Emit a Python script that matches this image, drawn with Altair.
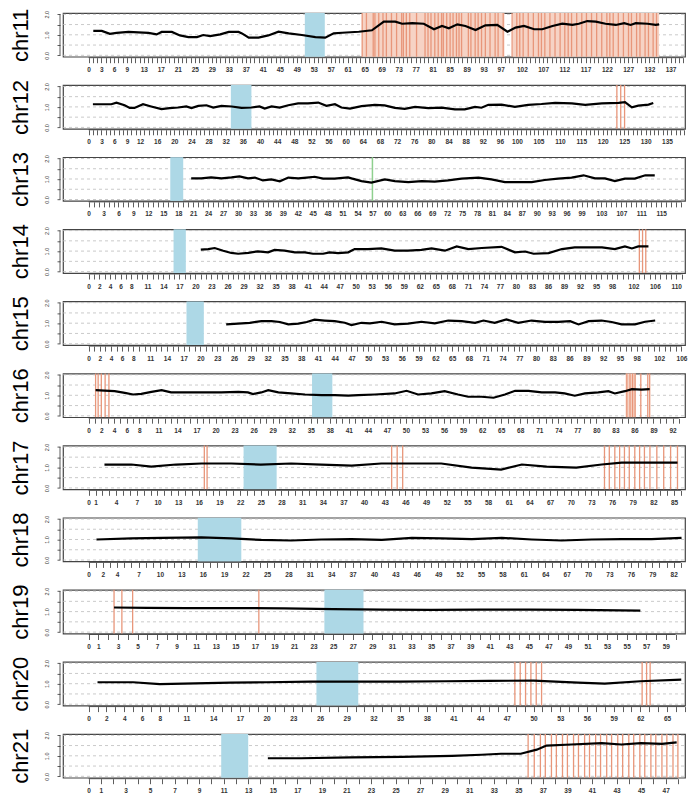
import math
import altair as alt
import pandas as pd

# ------------------------------------------------------------------ data
chr_names = ["chr11", "chr12", "chr13", "chr14", "chr15", "chr16",
             "chr17", "chr18", "chr19", "chr20", "chr21"]
chr_len = [135.0, 133.85, 115.17, 107.35, 102.53, 90.35,
           83.26, 80.37, 58.62, 64.44, 46.71]

cen_start = [50.9, 33.2, 16.4, 15.9, 17.5, 35.2, 22.5, 15.3, 24.1, 25.6, 10.8]
cen_end = [55.6, 38.0, 19.0, 18.2, 20.6, 38.4, 27.3, 21.4, 28.1, 30.3, 13.0]

chr11_pos = [1.1, 3.1, 5.0, 6.6, 9.4, 11.7, 14.1, 16.0, 17.2, 19.6, 21.5, 23.5, 25.5, 27.0,
             28.6, 31.0, 33.0, 35.3, 36.1, 37.7, 40.0, 42.3, 44.7, 47.1, 50.2, 53.4, 55.7,
             57.7, 59.7, 63.6, 66.7, 69.5, 72.2, 73.8, 76.2, 78.9, 81.3, 83.2, 84.8, 86.8,
             88.7, 91.1, 93.4, 96.2, 98.6, 100.5, 102.5, 104.9, 106.8, 109.2, 111.5, 113.9,
             115.4, 117.4, 119.4, 121.7, 124.1, 126.1, 127.6, 128.8, 131.6, 133.5, 134.3]
chr11_ratio = [1.19, 1.19, 1.05, 1.09, 1.14, 1.12, 1.09, 1.02, 1.14, 1.14, 0.97, 0.89, 0.89, 0.99,
               0.94, 1.02, 1.14, 1.14, 1.07, 0.86, 0.86, 0.97, 1.15, 1.07, 0.99, 0.89, 0.86,
               1.07, 1.10, 1.15, 1.22, 1.64, 1.64, 1.54, 1.57, 1.54, 1.27, 1.43, 1.32, 1.51,
               1.43, 1.23, 1.46, 1.48, 1.15, 1.35, 1.43, 1.27, 1.27, 1.43, 1.54, 1.48,
               1.54, 1.67, 1.64, 1.54, 1.48, 1.57, 1.48, 1.57, 1.54, 1.48, 1.51]

chr12_pos = [1.0, 3.0, 5.3, 6.5, 8.4, 9.6, 10.7, 12.7, 14.6, 17.0, 18.9, 20.9, 22.8, 24.0, 25.6,
             27.5, 29.1, 31.0, 33.4, 35.7, 38.0, 39.9, 41.1, 42.7, 44.6, 46.6, 48.9, 51.2, 53.6,
             55.5, 57.5, 59.0, 61.0, 63.7, 66.8, 69.1, 71.5, 73.8, 76.2, 79.3, 82.4, 85.5, 87.8,
             90.2, 91.7, 93.3, 96.4, 99.5, 102.6, 105.7, 108.9, 112.8, 115.9, 119.8, 123.7,
             125.2, 126.8, 128.3, 130.7, 131.8]
chr12_ratio = [1.13, 1.13, 1.13, 1.21, 1.08, 0.95, 0.95, 1.13, 1.02, 0.89, 0.94, 0.97, 1.02, 0.94,
               1.05, 1.08, 0.97, 1.05, 1.02, 0.95, 0.97, 1.02, 0.92, 1.02, 0.97, 1.08, 1.17, 1.17,
               1.21, 1.05, 1.13, 0.97, 0.92, 1.04, 1.10, 1.07, 0.95, 0.90, 1.00, 0.94, 0.96, 0.88,
               0.88, 1.00, 0.96, 1.10, 1.11, 1.00, 1.10, 1.14, 1.20, 1.17, 1.10, 1.17, 1.20,
               1.23, 0.98, 1.06, 1.11, 1.19]

chr13_pos = [20.6, 22.6, 24.6, 26.7, 28.7, 30.3, 32.0, 33.4, 35.0, 36.7, 38.4, 40.1, 42.1, 43.8,
             45.4, 47.1, 49.4, 52.1, 52.8, 54.8, 56.8, 59.5, 61.5, 64.2, 66.9, 69.5, 72.2, 74.9,
             78.3, 80.9, 83.6, 86.3, 89.0, 91.6, 94.3, 97.0, 99.4, 101.7, 103.7, 105.7, 107.7,
             109.7, 111.8, 113.7]
chr13_ratio = [1.03, 1.03, 1.08, 1.03, 1.08, 1.13, 1.03, 1.07, 0.93, 0.98, 0.89, 1.07, 1.03, 1.07,
               1.11, 1.02, 1.02, 1.08, 1.03, 0.90, 0.82, 0.98, 0.90, 0.85, 0.90, 0.87, 0.93, 1.02,
               1.07, 0.98, 0.85, 0.85, 0.85, 0.95, 1.02, 1.07, 1.18, 1.03, 1.03, 0.90, 1.02,
               1.02, 1.18, 1.18]

chr14_pos = [21.0, 22.4, 23.6, 25.2, 26.7, 28.0, 29.9, 31.7, 33.6, 34.8, 36.7, 38.6, 40.5, 42.0,
             43.9, 45.1, 46.7, 48.6, 49.8, 52.3, 54.8, 57.3, 59.8, 62.3, 64.2, 66.7, 68.9, 71.1,
             73.6, 77.3, 79.8, 81.7, 83.3, 86.1, 88.6, 91.0, 93.6, 96.1, 98.5, 100.4, 101.7,
             102.9, 104.8]
chr14_ratio = [1.07, 1.10, 1.15, 1.02, 0.91, 0.87, 0.91, 0.99, 0.94, 1.06, 1.02, 0.94, 0.94, 0.87,
               0.87, 0.94, 0.90, 0.94, 1.10, 1.10, 1.13, 1.02, 1.02, 1.06, 1.13, 1.02, 1.23, 1.10,
               1.15, 1.21, 0.94, 0.98, 0.87, 0.90, 1.10, 1.18, 1.18, 1.18, 1.10, 1.23, 1.13,
               1.23, 1.23]

chr15_pos = [24.6, 26.7, 28.8, 30.9, 32.7, 34.2, 35.7, 37.5, 39.0, 40.4, 42.2, 44.0, 45.8, 47.0,
             48.8, 50.3, 52.4, 54.7, 57.1, 59.5, 61.9, 64.3, 66.7, 69.1, 70.6, 72.6, 74.7, 76.8,
             79.2, 81.6, 84.0, 86.1, 87.6, 89.4, 91.7, 93.5, 95.3, 97.7, 99.5, 101.3]
chr15_ratio = [0.94, 0.98, 1.02, 1.10, 1.10, 1.06, 0.94, 0.98, 1.06, 1.17, 1.13, 1.10, 1.02, 0.91,
               1.02, 0.99, 1.07, 0.94, 0.98, 1.07, 0.99, 1.13, 1.10, 1.02, 1.13, 1.02, 1.18, 1.02,
               1.13, 1.06, 1.06, 1.10, 0.94, 1.10, 1.13, 1.06, 0.94, 0.94, 1.07, 1.13]

chr16_pos = [1.1, 2.5, 4.1, 5.7, 7.0, 8.3, 9.9, 11.5, 13.0, 15.7, 18.3, 20.9, 23.6, 25.1, 25.9,
             27.2, 28.3, 29.9, 31.9, 34.1, 36.7, 38.8, 40.9, 42.5, 45.1, 48.2, 50.1, 51.9, 54.0,
             56.1, 58.2, 59.8, 61.9, 63.8, 65.6, 67.2, 69.3, 71.4, 73.5, 75.0, 76.6, 78.2, 80.3,
             81.9, 82.9, 84.5, 85.6, 87.1, 88.4]
chr16_ratio = [1.25, 1.23, 1.20, 1.12, 1.04, 1.07, 1.17, 1.25, 1.14, 1.14, 1.14, 1.14, 1.17, 1.14,
               1.06, 1.14, 1.25, 1.14, 1.09, 1.04, 1.01, 1.01, 0.98, 1.01, 1.04, 1.09, 1.22, 1.04,
               1.09, 1.20, 1.04, 0.93, 0.93, 0.88, 1.04, 1.22, 1.22, 1.14, 1.14, 1.09, 0.98, 1.09,
               1.14, 1.20, 1.09, 1.20, 1.30, 1.28, 1.30]

chr17_pos = [2.3, 6.2, 9.1, 12.7, 16.4, 20.7, 25.0, 29.4, 33.8, 38.2, 42.5, 46.9, 51.2, 55.6,
             59.9, 62.9, 66.5, 70.8, 74.5, 77.4, 81.7, 85.5]
chr17_ratio = [1.14, 1.14, 1.04, 1.14, 1.19, 1.19, 1.14, 1.19, 1.14, 1.09, 1.19, 1.19, 1.19, 0.99,
               0.89, 1.14, 1.04, 0.99, 1.14, 1.23, 1.23, 1.23]

chr18_pos = [1.1, 6.0, 10.2, 15.8, 20.0, 24.2, 28.4, 32.6, 36.8, 41.1, 45.3, 49.5, 53.7, 57.9,
             62.1, 66.3, 70.5, 74.7, 78.9, 83.1]
chr18_ratio = [1.00, 1.05, 1.08, 1.10, 1.05, 0.98, 0.95, 1.00, 1.02, 0.98, 1.08, 1.05, 1.02, 1.08,
               1.00, 0.95, 1.00, 1.02, 1.02, 1.08]

chr19_pos = [2.6, 6.0, 10.0, 15.0, 20.0, 25.0, 30.0, 35.0, 40.0, 45.0, 50.0, 56.4]
chr19_ratio = [1.20, 1.18, 1.17, 1.17, 1.16, 1.12, 1.10, 1.08, 1.10, 1.10, 1.08, 1.05]

chr20_pos = [1.0, 5.0, 8.0, 12.0, 16.0, 20.0, 25.0, 30.0, 35.0, 40.0, 45.0, 50.0, 55.0, 58.0,
             62.0, 66.6]
chr20_ratio = [1.07, 1.07, 0.98, 1.02, 1.05, 1.07, 1.10, 1.10, 1.10, 1.12, 1.14, 1.15, 1.05, 1.00,
               1.12, 1.20]

chr21_pos = [14.6, 17.3, 21.4, 25.5, 29.6, 32.0, 33.6, 35.2, 36.5, 37.3, 39.3, 41.8, 43.4, 45.0,
             46.7, 47.9]
chr21_ratio = [0.88, 0.88, 0.92, 0.95, 1.00, 1.05, 1.10, 1.10, 1.30, 1.50, 1.55, 1.62, 1.55, 1.62,
               1.58, 1.65]

line_pos = [chr11_pos, chr12_pos, chr13_pos, chr14_pos, chr15_pos, chr16_pos,
            chr17_pos, chr18_pos, chr19_pos, chr20_pos, chr21_pos]
line_ratio = [chr11_ratio, chr12_ratio, chr13_ratio, chr14_ratio, chr15_ratio, chr16_ratio,
              chr17_ratio, chr18_ratio, chr19_ratio, chr20_ratio, chr21_ratio]

# amplified segments (orange lines)
amp_chr11 = [64.4, 65.4, 67.0, 67.4, 68.3, 69.3, 70.1, 71.3, 72.5, 73.7, 74.1, 74.8, 75.6, 77.2,
             79.2, 79.9, 80.6, 81.5, 82.3, 83.1, 83.5, 84.3, 85.1, 85.8, 86.6, 87.2, 87.8, 89.4,
             90.0, 91.0, 91.7, 92.5, 93.4, 94.5, 95.7, 96.4, 97.6, 99.7, 100.8, 101.5, 102.3,
             103.5, 104.7, 105.9, 106.6, 107.4, 108.6, 109.8, 111.0, 112.1, 112.9, 113.7, 114.9,
             116.1, 117.2, 118.4, 119.6, 120.8, 122.0, 122.7, 123.5, 124.7, 125.9, 127.1, 127.8,
             129.0, 129.8, 131.0, 131.8, 132.9, 133.7]
amp_chr12 = [123.3, 124.2, 125.1]
amp_chr14 = [103.1, 103.7, 104.3]
amp_chr16 = [1.1, 1.5, 2.0, 2.6, 3.2, 84.8, 85.3, 85.7, 86.1, 87.0, 88.1, 88.4]
amp_chr17 = [16.8, 17.2, 44.0, 44.8, 45.6, 74.9, 75.6, 76.4, 77.1, 77.8, 78.5, 79.3, 80.0, 80.7,
             81.5, 82.5, 83.5, 84.5, 85.5]
amp_chr19 = [2.6, 3.4, 4.5, 17.4]
amp_chr20 = [47.9, 48.5, 49.1, 49.7, 50.3, 50.9, 62.2, 62.7, 63.1]
amp_chr21 = [35.8, 36.3, 36.8, 37.2, 37.7, 38.1, 38.6, 39.0, 39.5, 39.9, 40.4, 40.8, 41.3, 41.7,
             42.2, 42.6, 43.1, 43.5, 44.0, 44.4, 44.9, 45.3, 45.8, 46.2, 46.7, 47.1, 47.6, 48.0]
amp_lines = [amp_chr11, amp_chr12, [], amp_chr14, [], amp_chr16, amp_chr17, [], amp_chr19,
             amp_chr20, amp_chr21]

band_start = [[64.4, 99.9], [], [], [], [], [84.6], [], [], [], [], []]
band_end = [[97.9, 134.3], [], [], [], [], [86.2], [], [], [], [], []]

green_lines = [[], [], [57.0], [], [], [], [], [], [], [], []]

tick_labels = [
    [0, 3, 6, 9, 13, 17, 21, 25, 29, 33, 37, 41, 45, 49, 53, 57, 61, 65, 69, 73, 77, 81, 85, 89,
     93, 97, 102, 107, 112, 117, 122, 127, 132, 137],
    [0, 3, 6, 9, 12, 16, 20, 24, 28, 32, 36, 40, 44, 48, 52, 56, 60, 64, 68, 72, 76, 80, 84, 88,
     92, 96, 100, 105, 110, 115, 120, 125, 130, 135],
    [0, 3, 6, 9, 12, 15, 18, 21, 24, 27, 30, 33, 36, 39, 42, 45, 48, 51, 54, 57, 60, 63, 66, 69,
     72, 75, 78, 81, 84, 87, 90, 93, 96, 99, 103, 107, 111, 115],
    [0, 2, 4, 6, 8, 11, 14, 17, 20, 23, 26, 29, 32, 35, 38, 41, 44, 47, 50, 53, 56, 59, 62, 65,
     68, 71, 74, 77, 80, 83, 86, 89, 92, 95, 98, 102, 106, 110],
    [0, 2, 4, 6, 8, 11, 14, 17, 20, 23, 26, 29, 32, 35, 38, 41, 44, 47, 50, 53, 56, 59, 62, 65,
     68, 71, 74, 77, 80, 83, 86, 89, 92, 95, 98, 102, 106],
    [0, 2, 4, 6, 8, 11, 14, 17, 20, 23, 26, 29, 32, 35, 38, 41, 44, 47, 50, 53, 56, 59, 62, 65,
     68, 71, 74, 77, 80, 83, 86, 89, 92],
    [0, 1, 4, 7, 10, 13, 16, 19, 22, 25, 28, 31, 34, 37, 40, 43, 46, 49, 52, 55, 58, 61, 64, 67,
     70, 73, 76, 79, 82, 85],
    [0, 2, 4, 7, 10, 13, 16, 19, 22, 25, 28, 31, 34, 37, 40, 43, 46, 49, 52, 55, 58, 61, 64, 67,
     70, 73, 76, 79, 82],
    [0, 1, 3, 5, 7, 9, 11, 13, 15, 17, 19, 21, 23, 25, 27, 29, 31, 33, 35, 37, 39, 41, 43, 45,
     47, 49, 51, 53, 55, 57, 59],
    [0, 2, 4, 6, 8, 11, 14, 17, 20, 23, 26, 29, 32, 35, 38, 41, 44, 47, 50, 53, 56, 59, 62, 65],
    [0, 1, 3, 5, 7, 9, 11, 13, 15, 17, 19, 21, 23, 25, 27, 29, 31, 33, 35, 37, 39, 41, 43, 45,
     47],
]

grid_levels = [0.0, 0.5, 1.0, 1.5, 2.0]
y_ticks = [0.0, 0.5, 1.0, 1.5, 2.0]

# ------------------------------------------------------------------ layout
W = 622
H = 43.7
FONT = "Liberation Sans"
AMP = "#E8967A"
AMP_LIGHT = "#F6D3C5"
CEN = "#ADD8E6"


def panel(i):
    L = chr_len[i]
    ppm = 596.0 / (1.04 * L)
    d0 = -25.6 / ppm
    d1 = 1.04 * L
    xs = alt.Scale(domain=[d0, d1], nice=False, zero=False)
    ys = alt.Scale(domain=[-0.068, 2.063], nice=False, zero=False)
    last = int(math.floor(d1))
    ticks = list(range(0, last + 1))
    expr = ("indexof([" + ",".join(str(v) for v in tick_labels[i]) +
            "], datum.value) >= 0 ? datum.label : ''")
    xaxis = alt.Axis(values=ticks, labelExpr=expr, labelOverlap=False, labelFlush=False,
                     domain=False, grid=False, tickSize=5, offset=1, labelPadding=4,
                     labelFontSize=6.5, labelFont=FONT, labelColor="#333", tickColor="#333",
                     tickWidth=0.8, title=None, labelFontWeight="bold")
    yaxis = alt.Axis(values=y_ticks,
                     labelExpr="datum.value % 1 == 0 ? format(datum.value, '.1f') : ''",
                     grid=False, domain=False, tickSize=3, offset=3, tickColor="#333",
                     tickWidth=0.8, labelAngle=270, labelAlign="center",
                     labelBaseline="bottom", labelPadding=8, labelFontSize=5.5,
                     labelFont=FONT, labelColor="#333", labelOverlap=False,
                     title=chr_names[i], titleAngle=270, titleFontSize=22, titleFont=FONT,
                     titleFontWeight="normal", titleColor="black", titlePadding=12)

    def X(field):
        return alt.X(field, type="quantitative", scale=xs, axis=xaxis)

    def Y(field):
        return alt.Y(field, type="quantitative", scale=ys, axis=yaxis)

    layers = []
    gdf = pd.DataFrame({"g": grid_levels})
    layers.append(alt.Chart(gdf).mark_rule(strokeDash=[3, 3], color="#bdbdbd",
                                           strokeWidth=0.8).encode(
        y=Y("g"), x=alt.value(0), x2=alt.value(W)))

    if band_start[i]:
        bdf = pd.DataFrame({"s": band_start[i], "e": band_end[i]})
        layers.append(alt.Chart(bdf).mark_rect(color=AMP_LIGHT).encode(
            x=X("s"), x2="e:Q", y=alt.value(0), y2=alt.value(H)))
    if amp_lines[i]:
        adf = pd.DataFrame({"p": amp_lines[i]})
        layers.append(alt.Chart(adf).mark_rule(color=AMP, strokeWidth=1.3).encode(
            x=X("p"), y=alt.value(0), y2=alt.value(H)))
    if green_lines[i]:
        gl = pd.DataFrame({"p": green_lines[i]})
        layers.append(alt.Chart(gl).mark_rule(color="#8FD08F", strokeWidth=1.5).encode(
            x=X("p"), y=alt.value(0), y2=alt.value(H)))

    cdf = pd.DataFrame({"s": [cen_start[i]], "e": [cen_end[i]]})
    layers.append(alt.Chart(cdf).mark_rect(color=CEN).encode(
        x=X("s"), x2="e:Q", y=alt.value(0), y2=alt.value(H)))

    ldf = pd.DataFrame({"x": line_pos[i], "v": line_ratio[i]})
    layers.append(alt.Chart(ldf).mark_line(color="black", strokeWidth=2.2).encode(
        x=X("x"), y=Y("v")))

    xl = pd.DataFrame({"a": [0], "b": [last]})
    layers.append(alt.Chart(xl).mark_rule(color="#333", strokeWidth=0.8).encode(
        x=X("a"), x2="b:Q", y=alt.value(H + 1)))
    yl = pd.DataFrame({"a": [0.0], "b": [2.0]})
    layers.append(alt.Chart(yl).mark_rule(color="#333", strokeWidth=0.8).encode(
        y=Y("a"), y2="b:Q", x=alt.value(-3)))

    return alt.layer(*layers).properties(width=W, height=H)


chart = alt.vconcat(*[panel(i) for i in range(len(chr_names))],
                    spacing=28.1, bounds="flush").properties(
    padding={"left": 8, "top": 7, "right": 0, "bottom": 0},
    background="white",
).configure_view(stroke="#444", strokeWidth=1.2)

chart.save("out.html", embed_options={"renderer": "svg", "actions": False})
